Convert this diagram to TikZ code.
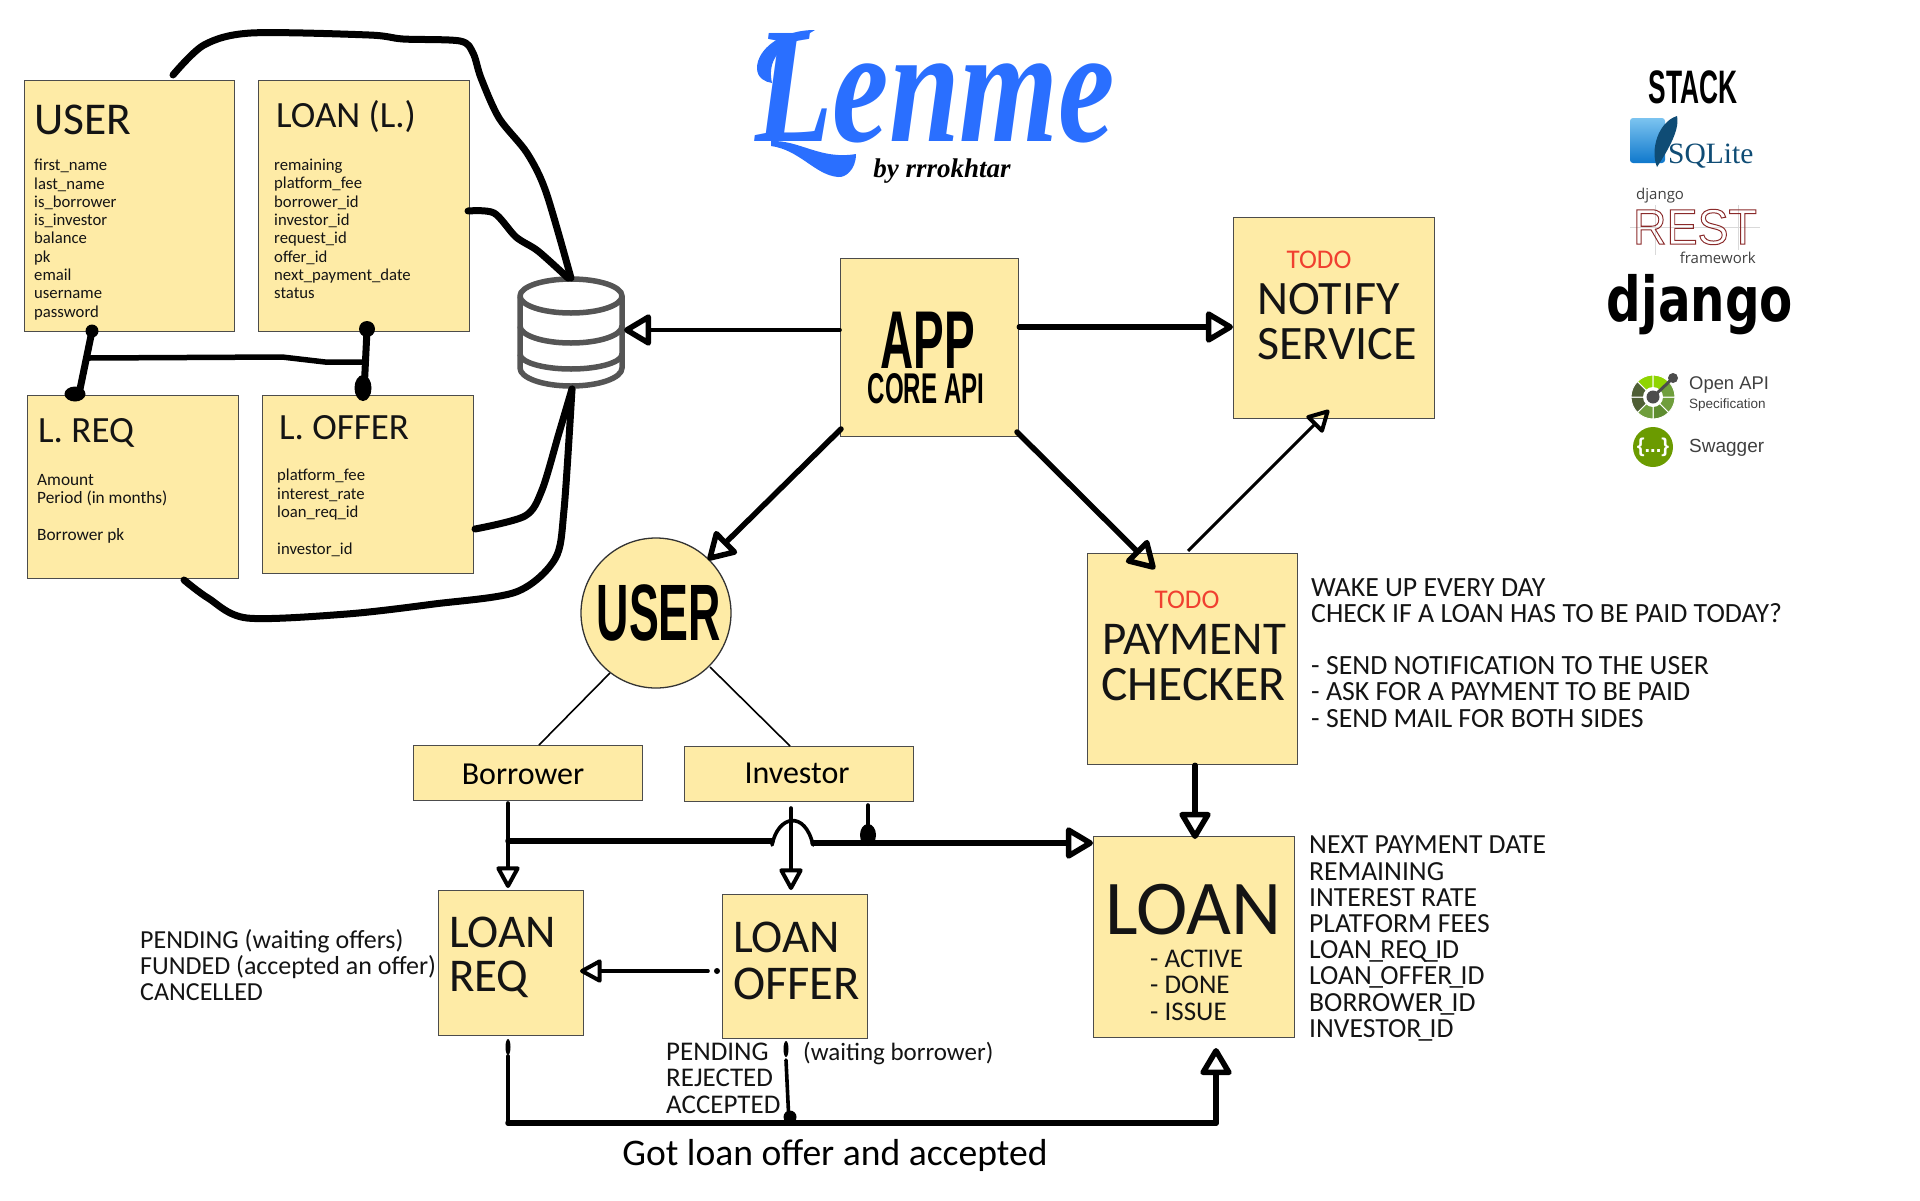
\documentclass[tikz,border=0pt]{standalone}
\usepackage{fontspec}
\setmainfont{Carlito}
\newfontfamily\condfont[FakeStretch=0.56]{Liberation Sans}
\newfontfamily\logofont{Liberation Serif}
\newfontfamily\helvfont{Liberation Sans}
\newfontfamily\djfont{DejaVu Sans}
\newfontfamily\opfont{Open Sans}
\usetikzlibrary{arrows.meta,shapes.geometric}
\newcommand{\fsz}[2]{\fontsize{#1}{#2}\selectfont}
\newcommand{\tightus}{\kern-2.7pt\_\kern-2.7pt}
\definecolor{sticky}{HTML}{FEEBA6}
\definecolor{lenmeblue}{HTML}{2A6FFF}
\definecolor{dbgray}{HTML}{555555}
\definecolor{todored}{HTML}{F04030}
\definecolor{sqlnavy}{HTML}{0F4C75}
\definecolor{sqltop}{HTML}{7CC4F0}
\definecolor{sqlbot}{HTML}{0F78CC}
\definecolor{restred}{HTML}{8A2A2A}
\definecolor{wheelA}{HTML}{6F9E3C}
\definecolor{wheelB}{HTML}{5E8C30}
\definecolor{wheelC}{HTML}{4F5F35}
\definecolor{wheelD}{HTML}{8FD400}
\definecolor{swaggreen}{HTML}{6B9B00}
\tikzset{
  box/.style={draw=black!70,line width=1.3pt,fill=sticky,rectangle,inner sep=0pt,anchor=north west},
  txt/.style={inner sep=0pt,anchor=west,text=black!92},
  fields/.style={inner sep=0pt,anchor=north west,align=left,font=\fsz{16.7}{18.3},text=black!92},
  notes/.style={inner sep=0pt,anchor=north west,align=left,font=\fsz{26}{26.2},text=black!92},
  scrib/.style={line width=7pt,line cap=round,line join=round},
  ink/.style={line width=5.5pt,line cap=round,line join=round},
  inkthin/.style={line width=3.6pt,line cap=round,line join=round},
  openhead/.style={-{Triangle[open,length=30pt,width=34pt,line width=5.5pt,round]}},
  smallhead/.style={-{Triangle[open,length=24pt,width=25pt,line width=4pt,round]}},
  dot/.style={circle,fill=black,inner sep=0pt,minimum size=#1},
}
\begin{document}
\begin{tikzpicture}[x=1pt,y=-1pt]
  \useasboundingbox (0,0) rectangle (1920,1200);
  % schema cards
  \node[box,minimum width=210pt,minimum height=251pt] (userT) at (24,80) {};
  \node[box,minimum width=211pt,minimum height=251pt] (loanT) at (258,80) {};
  \node[box,minimum width=211pt,minimum height=183pt] (reqT) at (27,395) {};
  \node[box,minimum width=211pt,minimum height=178pt] (offerT) at (262,395) {};
  \node[txt,font=\fsz{45.5}{45.5}] (userTitle) at (34,120) {USER};
  \node[txt,font=\fsz{37}{37}] (loanTitle) at (276,117) {LOAN (L.)};
  \node[txt,font=\fsz{37}{37}] (reqTitle) at (38,433) {L. REQ};
  \node[txt,font=\fsz{37}{37}] (offerTitle) at (279,428) {L. OFFER};
  \node[fields] (userF) at (34,159) {first\_name\\last\_name\\is\_borrower\\is\_investor\\balance\\pk\\email\\username\\password};
  \node[fields] (loanF) at (274,159) {remaining\\platform\_fee\\borrower\_id\\investor\_id\\request\_id\\offer\_id\\next\_payment\_date\\status};
  \node[fields,font=\fsz{17.3}{18.3}] (reqF) at (37,474) {Amount\\Period (in months)\\\\Borrower pk};
  \node[fields] (offerF) at (277,469) {platform\_fee\\interest\_rate\\loan\_req\_id\\\\investor\_id};
  % database
  \coordinate (dbTop) at (571,278);
  \coordinate (dbBot) at (572,389);
  \coordinate (dbEast) at (624,330);
  \draw[dbgray,line width=5.5pt,fill=white] (520,296) arc[start angle=180,end angle=360,x radius=51,y radius=17] -- (622,368) arc[start angle=0,end angle=180,x radius=51,y radius=18] -- cycle;
  \draw[dbgray,line width=5.5pt] (520,296) arc[start angle=180,end angle=0,x radius=51,y radius=17];
  \draw[dbgray,line width=5.5pt] (520,326) arc[start angle=180,end angle=0,x radius=51,y radius=17];
  \draw[dbgray,line width=5.5pt] (520,354) arc[start angle=180,end angle=0,x radius=51,y radius=15];
  % scribbled links of the cards
  \draw[scrib] plot[smooth,tension=0.5] coordinates {(173,75) (204,45) (251,33) (369,35) (403,39) (460,41) (473,53) (481,78) (499,118) (527,153) (546,192) (dbTop)};
  \draw[scrib] plot[smooth,tension=0.5] coordinates {(468,211) (494,213) (516,237) (538,251) (568,278)};
  \draw[scrib] (92,331) -- (79,394);
  \node[dot=13pt] (userDot) at (92,331) {};
  \node[dot=15pt,ellipse,minimum width=21pt] (reqDot) at (75,394) {};
  \draw[ink] (89,358) -- (282,357) -- (325,362) -- (366,362);
  \draw[scrib] (367,330) -- (364,392);
  \node[dot=16pt] (loanDot) at (367,329) {};
  \node[ellipse,fill=black,inner sep=0pt,minimum width=17pt,minimum height=26pt] (offerDot) at (363,388) {};
  \draw[scrib] plot[smooth,tension=0.5] coordinates {(475,529) (525,516) (542,490) (559,433) (dbBot)};
  \draw[scrib] plot[smooth,tension=0.5] coordinates {(184,580) (208,598) (247,618) (347,614) (434,604) (516,592) (555,559) (564,510) (dbBot)};
  % main blocks
  \node[box,minimum width=178pt,minimum height=178pt] (app) at (840,258) {};
  \node[box,minimum width=201pt,minimum height=201pt] (notify) at (1233,217) {};
  \node[box,minimum width=210pt,minimum height=211pt] (payment) at (1087,553) {};
  \node[draw=black!80,line width=1.3pt,fill=sticky,circle,minimum size=150pt,inner sep=0pt] (userC) at (656,613) {};
  \node[box,minimum width=229pt,minimum height=55pt] (borrower) at (413,745) {};
  \node[box,minimum width=229pt,minimum height=55pt] (investor) at (684,746) {};
  \node[box,minimum width=145pt,minimum height=145pt] (loanReq) at (438,890) {};
  \node[box,minimum width=145pt,minimum height=144pt] (loanOffer) at (722,894) {};
  \node[box,minimum width=201pt,minimum height=201pt] (loan) at (1093,836) {};
  \node[inner sep=0pt,font=\condfont\bfseries\fsz{82}{82}] (appT) at (928,340) {APP};
  \node[inner sep=0pt,font=\condfont\bfseries\fsz{43}{43}] (coreT) at (926,389) {CORE API};
  \node[inner sep=0pt,font=\fsz{27}{27},text=todored] (todoA) at (1319,260) {TODO};
  \node[txt,font=\fsz{48}{48}] (notifyT) at (1257,299) {NOTIFY};
  \node[txt,font=\fsz{48}{48}] (serviceT) at (1257,344) {SERVICE};
  \node[inner sep=0pt,font=\fsz{27}{27},text=todored] (todoB) at (1187,600) {TODO};
  \node[txt,font=\fsz{47}{47}] (payT) at (1102,639) {PAYMENT};
  \node[txt,font=\fsz{49.5}{49.5}] (checkT) at (1101,685) {CHECKER};
  \node[inner sep=0pt,font=\condfont\bfseries\fsz{80}{80}] (userCT) at (659,613) {USER};
  \node[inner sep=0pt,font=\fsz{32}{32}] (borrowerT) at (523,774) {Borrower};
  \node[inner sep=0pt,font=\fsz{32}{32}] (investorT) at (797,773) {Investor};
  \node[txt,font=\fsz{47}{47}] (reqA) at (449,932) {LOAN};
  \node[txt,font=\fsz{47}{47}] (reqB) at (449,979) {REQ};
  \node[txt,font=\fsz{47}{47}] (offerA) at (733,937) {LOAN};
  \node[txt,font=\fsz{48.5}{48.5}] (offerB) at (733,984) {OFFER};
  \node[txt,font=\fsz{77.5}{77.5}] (loanBig) at (1105,910) {LOAN};
  \node[notes,font=\fsz{27}{26.2}] (loanStates) at (1150,950) {- ACTIVE\\- DONE\\- ISSUE};
  % free notes
  \node[notes] (reqNote) at (140,929) {PENDING (waiting offers)\\FUNDED (accepted an offer)\\CANCELLED};
  \node[notes,font=\fsz{27}{26.2}] (offerNote) at (666,1043) {PENDING\\REJECTED\\ACCEPTED};
  \node[txt,font=\fsz{25}{25}] (offerWait) at (803,1053) {(waiting borrower)};
  \node[notes,font=\fsz{27.8}{26.2}] (payNote) at (1311,578) {WAKE UP EVERY DAY\\CHECK IF A LOAN HAS TO BE PAID TODAY?\\\\- SEND NOTIFICATION TO THE USER\\- ASK FOR A PAYMENT TO BE PAID\\- SEND MAIL FOR BOTH SIDES};
  \node[notes,font=\fsz{27.6}{26.2}] (loanNote) at (1309,836) {NEXT PAYMENT DATE\\REMAINING\\INTEREST RATE\\PLATFORM FEES\\LOAN\tightus REQ\tightus ID\\LOAN\tightus OFFER\tightus ID\\BORROWER\tightus ID\\INVESTOR\tightus ID};
  \node[inner sep=0pt,font=\fsz{37.6}{37.6}] (gotT) at (835,1155) {Got loan offer and accepted};
  % connectors of the flow
  \draw[inkthin,openhead] (app.west |- dbEast) -- (dbEast);
  \draw[ink,openhead] (app.east |- 0,327) -- (notify.west |- 0,327);
  \draw[ink,openhead] (1017,432) -- (1155,569);
  \draw[ink,openhead] (841,429) -- (708,560);
  \draw[line width=3pt,smallhead] (1188,551) -- (1329,410);
  \draw[line width=1.6pt] (610,673) -- (539,745);
  \draw[line width=1.6pt] (710,667) -- (790,746);
  \draw[ink,openhead] (payment.south -| 1195,0) -- (1195,839);
  \draw[inkthin,smallhead] (508,803) -- (508,888);
  \draw[inkthin,smallhead] (791,808) -- (791,890);
  \draw[ink] (508,841) -- (772,841);
  \draw[inkthin] (772,845) .. controls (778,815) and (805,810) .. (813,845);
  \draw[ink,openhead] (813,843) -- (loan.west |- 0,843);
  \draw[inkthin] (868,805) -- (868,843);
  \node[ellipse,fill=black,inner sep=0pt,minimum width=16pt,minimum height=22pt] (investorDot) at (868,835) {};
  \draw[inkthin,smallhead] (708,971) -- (580,971);
  \node[dot=6pt] (offerTail) at (717,971) {};
  \draw[inkthin] (508,1056) -- (508,1123);
  \node[ellipse,fill=black,inner sep=0pt,minimum width=5pt,minimum height=16pt] (reqTail) at (508,1047) {};
  \draw[inkthin] (786,1060) -- (789,1123);
  \node[ellipse,fill=black,inner sep=0pt,minimum width=5pt,minimum height=16pt] (offerDrop) at (786,1049) {};
  \draw[ink] (508,1123) -- (1216,1123);
  \draw[ink,openhead] (1216,1123) -- (1216,1048);
  \node[dot=13pt] (mergeDot) at (790,1117) {};
  % logo
  \fill[lenmeblue] (771,141) .. controls (800,140) and (820,160) .. (856,154) .. controls (856,170) and (845,178) .. (838,177) .. controls (815,175) and (800,150) .. (771,146) -- cycle;
  \fill[lenmeblue] (815,30) .. controls (780,30) and (757,50) .. (757,68) .. controls (757,78) and (765,82) .. (772,83) .. controls (768,65) and (775,50) .. (795,42) -- cycle;
  \node[inner sep=0pt,font=\logofont\bfseries\itshape\fsz{165}{165},text=lenmeblue,xscale=0.77] (lenmeT) at (935,88) {Lenme};
  \node[inner sep=0pt,font=\logofont\bfseries\itshape\fsz{27}{27}] (byT) at (942,171) {by rrrokhtar};
  % stack column
  \node[inner sep=0pt,font=\condfont\bfseries\fsz{47}{47}] (stackT) at (1693,87) {STACK};
  \shade[top color=sqltop,bottom color=sqlbot,rounded corners=3pt] (1630,118) rectangle (1665,163);
  \fill[sqlnavy] (1677,116) .. controls (1658,122) and (1650,150) .. (1657,167) .. controls (1668,150) and (1680,130) .. (1677,116) -- cycle;
  \node[txt,font=\logofont\fsz{29.5}{29.5},text=sqlnavy] (sqliteT) at (1668,156) {SQLite};
  \node[txt,font=\opfont\fsz{15}{15},text=black!75] (djSmall) at (1636,196) {django};
  \draw[black!15,line width=0.8pt] (1630,227) -- (1760,227) (1655,205) -- (1655,255) (1738,205) -- (1738,250);
  \node[inner sep=0pt,font=\helvfont\fsz{50}{50},xscale=0.93,text=restred] (restT) at (1695,227) {\special{pdf:literal direct 1 Tr 1 w}REST\special{pdf:literal direct 0 Tr}};
  \node[anchor=east,inner sep=0pt,font=\opfont\fsz{15}{15},text=black!75] (frameT) at (1756,258) {framework};
  \node[inner sep=0pt,font=\djfont\bfseries\fsz{62}{62},xscale=0.78] (djangoT) at (1700,305) {django};
  % open api wheel
  \foreach \ang/\col in {0/wheelA,45/wheelB,90/wheelA,135/wheelC,180/wheelC,225/wheelD,270/wheelD,315/wheelA}
    \fill[fill=\col,draw=white,line width=1pt] (1653,397) -- ++(\ang:22) arc[start angle=\ang,end angle=\ang+45,radius=22] -- cycle;
  \fill[white] (1653,397) circle[radius=10];
  \draw[black!70,line width=3pt] (1653,397) -- (1673,378);
  \fill[black!70] (1653,397) circle[radius=6.5] (1673,378) circle[radius=5];
  \node[txt,font=\helvfont\fsz{18.4}{18.4},text=black!75] (openT) at (1689,385) {Open API};
  \node[txt,font=\helvfont\fsz{13.5}{13.5},text=black!75] (specT) at (1689,405) {Specification};
  \node[circle,fill=swaggreen,minimum size=40pt,inner sep=0pt,font=\helvfont\bfseries\fsz{20}{20},text=white] (swagC) at (1653,447) {\{...\}};
  \node[txt,font=\helvfont\fsz{19}{19},text=black!75] (swagT) at (1689,448) {Swagger};
\end{tikzpicture}
\end{document}
